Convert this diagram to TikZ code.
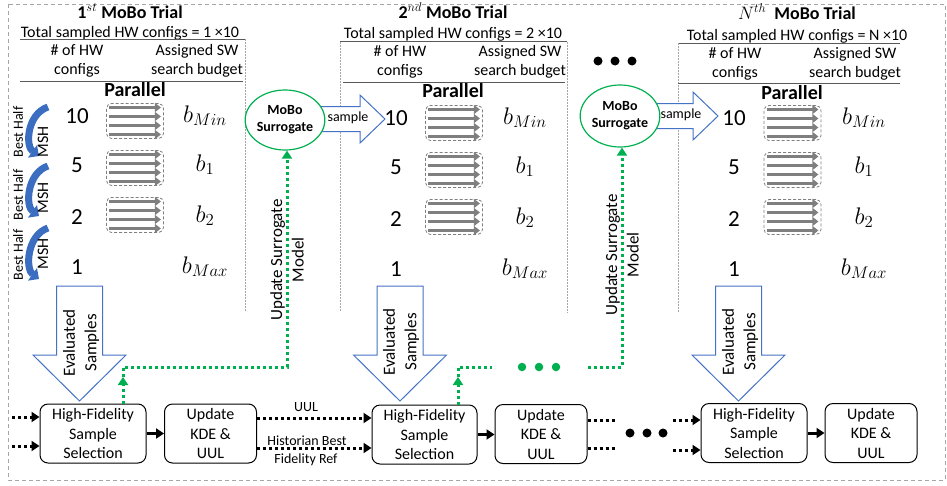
\RequirePackage{fix-cm}
\documentclass[tikz,border=0pt]{standalone}
\usepackage{fontspec}
\setmainfont{Carlito}
\usetikzlibrary{arrows.meta,shapes.geometric}
\definecolor{ablue}{HTML}{4472C4}
\definecolor{mshblue}{HTML}{3B6DC1}
\definecolor{ggreen}{HTML}{00B050}
\definecolor{agray}{HTML}{7F7F7F}
\definecolor{bgray}{HTML}{A6A6A6}
\definecolor{ugray}{HTML}{595959}
\newcommand\fs[2]{\fontsize{#1}{#2}\selectfont}
\tikzset{
  txt/.style={inner sep=0pt, anchor=base},
  hfs/.style={draw, rounded corners=8pt, line width=1pt, minimum width=106pt, minimum height=59pt, align=center, font=\fs{16}{19.5}, inner sep=0pt},
  uku/.style={hfs, minimum width=92pt},
  solidarr/.style={line width=3pt, -{Triangle[length=8pt,width=10pt]}},
  dotarr/.style={line width=3pt, dash pattern=on 3pt off 3pt, -{Triangle[length=8pt,width=10pt]}},
  dotline/.style={line width=3pt, dash pattern=on 3pt off 3pt},
  grn/.style={ggreen, line width=3pt, dash pattern=on 3pt off 3pt},
  grnarr/.style={grn, -{Triangle[length=8pt,width=10pt]}},
  arrbox/.style={draw=agray, dash pattern=on 3pt off 2pt, rounded corners=5pt, minimum width=57pt, minimum height=35pt, inner sep=0pt, line width=0.8pt},
  grayarr/.style={agray, line width=3.2pt, -{Triangle[length=6pt,width=9pt]}},
  mshstyle/.style={mshblue, line width=7pt, -{Triangle[length=8pt,width=15pt]}},
  trialline/.style={bgray, line width=0.8pt, dash pattern=on 1.5pt off 1.5pt},
  sepline/.style={ugray, line width=0.9pt},
  surr/.style={ellipse, draw=ggreen, line width=1.2pt, fill=white, minimum width=70pt, minimum height=60pt, inner sep=0pt, align=center, font=\bfseries\fs{14}{17}},
  bigarrow/.style={draw=ablue, line width=1pt, fill=white, line join=miter},
  numtxt/.style={txt, font=\fs{23}{23}},
  btxt/.style={txt, font=\fs{24}{24}},
  hdr/.style={txt, font=\fs{16}{16}},
  ttl/.style={txt, font=\bfseries\fs{18}{18}},
  par/.style={txt, font=\bfseries\fs{20}{20}},
  rottxt/.style={rotate=90, font=\fs{17}{21.5}, align=center, inner sep=0pt},
  dotc/.style={circle, fill=black, inner sep=0pt, minimum size=9pt},
  gdotc/.style={circle, fill=ggreen, inner sep=0pt, minimum size=8.5pt},
}
% rows: #1 prefix, #2 number x, #3 box x, #4 b x, #5 dy
\newcommand\TrialRows[5]{%
  \node[numtxt] (#1n10) at (#2,123+#5) {10};
  \node[numtxt] (#1n5) at (#2,172+#5) {5};
  \node[numtxt] (#1n2) at (#2,224+#5) {2};
  \node[numtxt] (#1n1) at (#2,274+#5) {1};
  \node[btxt] (#1bmin) at (#4,122+#5) {$b_{Min}$};
  \node[btxt] (#1b1) at (#4,171+#5) {$b_1$};
  \node[btxt] (#1b2) at (#4,222+#5) {$b_2$};
  \node[btxt] (#1bmax) at (#4,273+#5) {$b_{Max}$};
  \node[arrbox] (#1bxa) at (#3,121+#5) {};
  \node[arrbox] (#1bxb) at (#3,168+#5) {};
  \node[arrbox] (#1bxc) at (#3,215+#5) {};
  \foreach \bx in {#1bxa,#1bxb,#1bxc}{
    \foreach \k in {-13.5,-4.5,4.5,13.5}{
      \draw[grayarr] ([shift={(3,\k)}]\bx.west) -- ([shift={(-3,\k)}]\bx.east);
    }
  }
}
\newcommand\EvalArrow[1]{%
  \draw[bigarrow] (#1-23,286) -- (#1+23,286) -- (#1+23,355) -- (#1+46.5,355) -- (#1,401) -- (#1-46.5,355) -- (#1-23,355) -- cycle;
}
\newcommand\SampleArrow[2]{%
  \draw[bigarrow] (#1-65,#2-12.5) -- (#1-25,#2-12.5) -- (#1-25,#2-24) -- (#1,#2) -- (#1-25,#2+24) -- (#1-25,#2+12.5) -- (#1-65,#2+12.5) -- cycle;
}
\newcommand\MSHarc[2]{%
  \draw[mshstyle] (48,#1) .. controls (27,#1+7) and (25,#2-15) .. (39,#2-5);
}
\begin{document}
\begin{tikzpicture}[x=1pt,y=-1pt]
\useasboundingbox (0,0) rectangle (947,485);
% outer frame
\draw[bgray, line width=1pt, dash pattern=on 4pt off 3pt] (8,4) rectangle (945,480);

% ---------- Trial 1 ----------
\node[ttl] (t1title) at (130,18) {1$^{st}$ MoBo Trial};
\node[hdr] (t1total) at (130,37) {Total sampled HW configs = 1 ×10};
\draw[sepline] (20,39) -- (245,39);
\draw[trialline] (245,39) -- (245,312);
\node[hdr] (t1h1) at (77,55) {\# of HW};
\node[hdr] (t1h2) at (77,74) {configs};
\node[hdr] (t1a1) at (197,55) {Assigned SW};
\node[hdr] (t1a2) at (197,74) {search budget};
\draw[sepline] (20,81) -- (243,81);
\node[par] (t1par) at (135,96) {Parallel};
\TrialRows{t1}{77}{135}{205}{0}

% MSH arcs
\MSHarc{107}{161}
\MSHarc{166}{221}
\MSHarc{228}{284}
\node[rotate=90, font=\fs{16}{16}, inner sep=0pt] (msh1) at (43,142) {MSH};
\node[rotate=90, font=\fs{16}{16}, inner sep=0pt] (msh2) at (43,198) {MSH};
\node[rotate=90, font=\fs{16}{16}, inner sep=0pt] (msh3) at (43,254) {MSH};
\node[rotate=90, font=\fs{14}{14}, inner sep=0pt] (bh1) at (18,132) {Best Half};
\node[rotate=90, font=\fs{14}{14}, inner sep=0pt] (bh2) at (18,195) {Best Half};
\node[rotate=90, font=\fs{14}{14}, inner sep=0pt] (bh3) at (18,255) {Best Half};

% ---------- Trial 2 ----------
\node[ttl] (t2title) at (453,18) {2$^{nd}$ MoBo Trial};
\node[hdr] (t2total) at (453,38) {Total sampled HW configs = 2 ×10};
\draw[sepline] (340,41.5) -- (567,41.5);
\draw[trialline] (340,42) -- (340,312);
\draw[trialline] (567,42) -- (567,313);
\node[hdr] (t2h1) at (400,56) {\# of HW};
\node[hdr] (t2h2) at (400,75) {configs};
\node[hdr] (t2a1) at (520,56) {Assigned SW};
\node[hdr] (t2a2) at (520,75) {search budget};
\draw[sepline] (343,82) -- (565,82);
\node[par] (t2par) at (453,97) {Parallel};
\TrialRows{t2}{396}{454}{525}{2}

% ---------- Trial 3 ----------
\node[ttl] (t3title) at (797,19) {$N^{th}$\ \ MoBo Trial};
\node[hdr] (t3total) at (797,40) {Total sampled HW configs = N ×10};
\draw[sepline] (678,43) -- (900,43);
\draw[trialline] (678,43) -- (678,312);
\node[hdr] (t3h1) at (735,58) {\# of HW};
\node[hdr] (t3h2) at (735,77) {configs};
\node[hdr] (t3a1) at (855,58) {Assigned SW};
\node[hdr] (t3a2) at (855,77) {search budget};
\draw[sepline] (678,83) -- (900,83);
\node[par] (t3par) at (792,99) {Parallel};
\TrialRows{t3}{734}{792.5}{864}{2}

% top dots
\node[dotc] (td1) at (598,61) {};
\node[dotc] (td2) at (615,61) {};
\node[dotc] (td3) at (632,61) {};

% sample arrows and surrogates
\SampleArrow{385}{119}
\node[font=\fs{14}{14}, inner sep=0pt] (smp1) at (348,118) {sample};
\node[surr] (S1) at (285,120) {MoBo\\Surrogate};
\SampleArrow{718}{116}
\node[font=\fs{14}{14}, inner sep=0pt] (smp2) at (681,115) {sample};
\node[surr, minimum height=62pt] (S2) at (620,116) {MoBo\\Surrogate};

% evaluated samples arrows
\EvalArrow{79.5}
\node[rottxt] (ev1) at (81,343) {Evaluated\\Samples};
\EvalArrow{400}
\node[rottxt] (ev2) at (401,342) {Evaluated\\Samples};
\EvalArrow{738.5}
\node[rottxt] (ev3) at (740,342) {Evaluated\\Samples};

% update surrogate text
\node[rottxt] (us1) at (287,260) {Update Surrogate\\Model};
\node[rottxt] (us2) at (622,255) {Update Surrogate\\Model};

% bottom boxes
\node[hfs] (HFS1) at (93,433.5) {High-Fidelity\\Sample\\Selection};
\node[uku] (UKU1) at (210.5,433.5) {Update\\KDE \&\\UUL};
\node[hfs, minimum width=105pt] (HFS2) at (424.5,434.5) {High-Fidelity\\Sample\\Selection};
\node[uku] (UKU2) at (541,434) {Update\\KDE \&\\UUL};
\node[hfs] (HFS3) at (754,433) {High-Fidelity\\Sample\\Selection};
\node[uku] (UKU3) at (871,433) {Update\\KDE \&\\UUL};

% solid arrows
\draw[solidarr] (HFS1.east) -- (HFS1.east -| UKU1.west);
\draw[solidarr] (HFS2.east) -- (HFS2.east -| UKU2.west);
\draw[solidarr] (HFS3.east) -- (HFS3.east -| UKU3.west);

% dotted inputs
\coordinate (in1a) at (12,417);
\coordinate (in1b) at (12,446);
\draw[dotarr] (in1a) -- (in1a -| HFS1.west);
\draw[dotarr] (in1b) -- (in1b -| HFS1.west);
\coordinate (u1a) at (UKU1.east |- 0,418);
\coordinate (u1b) at (UKU1.east |- 0,448);
\draw[dotarr] (u1a) -- (u1a -| HFS2.west);
\draw[dotarr] (u1b) -- (u1b -| HFS2.west);
\node[txt, font=\fs{14}{14}] (luul) at (306,411.5) {UUL};
\node[txt, font=\fs{14}{14}] (lhb) at (307,445) {Historian Best};
\node[txt, font=\fs{14}{14}] (lfr) at (306,463) {Fidelity Ref};
\coordinate (u2a) at (617,420);
\coordinate (u2b) at (617,448);
\draw[dotline] (u2a -| UKU2.east) -- (u2a);
\draw[dotline] (u2b -| UKU2.east) -- (u2b);
\node[dotc] (bd1) at (630,433) {};
\node[dotc] (bd2) at (647,433) {};
\node[dotc] (bd3) at (663,433) {};
\coordinate (in3a) at (673,420);
\coordinate (in3b) at (673,450);
\draw[dotarr] (in3a) -- (in3a -| HFS3.west);
\draw[dotarr] (in3b) -- (in3b -| HFS3.west);

% green update paths
\coordinate (g1a) at (123,377);
\coordinate (g1b) at (123,367);
\coordinate (g1c) at (287,367);
\draw[grnarr] (HFS1.north -| g1a) -- (g1a);
\draw[grnarr] (g1a) -- (g1b) -- (g1c) -- (g1c |- S1.south);
\coordinate (g2a) at (458,377);
\coordinate (g2b) at (458,367);
\coordinate (g2c) at (492,367);
\draw[grnarr] (HFS2.north -| g2a) -- (g2a);
\draw[grn] (g2a) -- (g2b) -- (g2c);
\node[gdotc] (gd1) at (522,367) {};
\node[gdotc] (gd2) at (539,367) {};
\node[gdotc] (gd3) at (556,367) {};
\coordinate (g2d) at (588,367);
\coordinate (g2e) at (622,367);
\draw[grnarr] (g2d) -- (g2e) -- (g2e |- S2.south);
\end{tikzpicture}
\end{document}
